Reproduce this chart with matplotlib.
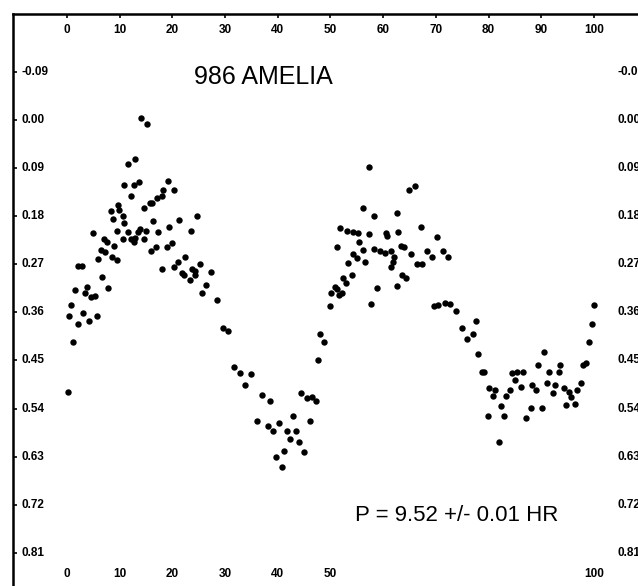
import matplotlib
matplotlib.use("Agg")
import matplotlib.pyplot as plt
import numpy as np
from matplotlib.transforms import blended_transform_factory

# phase (percent) and relative magnitude
phase = [
    0.1, 0.4, 0.8, 1.1, 1.5, 2.1, 2.8, 2.1, 3.1, 3.4, 3.8, 4.2, 4.6, 5.3, 5.6,
    4.9, 5.9, 6.4, 6.7, 7.1, 7.3, 7.6, 7.8, 8.4, 8.5, 8.8, 8.9, 9.4, 9.5, 9.7,
    9.9, 10.6, 10.6, 10.9, 10.9, 11.6, 11.6, 12.1, 12.1, 12.7, 12.7, 12.9, 13.0,
    13.5, 13.7, 13.9, 14.0, 15.1, 14.7, 14.7, 14.9, 15.7, 16.1, 15.9, 16.3,
    16.9, 17.1, 17.3, 18.0, 18.0, 18.3, 19.0, 19.2, 19.4, 20.0, 20.3, 20.4,
    21.1, 21.3, 21.8, 22.3, 22.4, 23.3, 23.6, 23.7, 24.2, 24.3, 24.7, 25.3,
    25.6, 26.4, 27.4, 28.5, 29.6, 30.6, 31.7, 32.8, 34.9, 33.8, 37.1, 38.6,
    36.0, 38.1, 39.1, 40.2, 41.8, 42.9, 43.5, 42.3, 44.0, 41.2, 39.6, 45.0,
    40.8, 46.2, 44.5, 45.6, 46.5, 47.2, 47.7, 48.1, 48.7, 49.9,
    50.2, 50.9, 51.2, 51.6, 52.1, 52.4, 52.9, 53.4, 54.0, 51.3, 51.9, 53.1,
    54.2, 54.3, 55.1, 55.3, 55.5, 56.2, 56.2, 56.6, 57.3, 57.4, 57.7, 58.3,
    58.3, 58.8, 59.4, 60.3, 60.5, 60.8, 61.5, 61.5, 61.8, 62.1, 62.6, 62.6,
    62.9, 63.3, 63.9, 63.6, 64.3, 65.0, 66.0, 65.3, 66.4, 67.3, 67.2, 68.3,
    69.2, 70.3, 71.3, 72.4, 69.6, 70.5, 71.7, 72.7, 73.8, 74.9, 76.0, 77.0,
    77.6, 78.1, 78.7, 79.2, 80.1, 80.8, 81.2, 79.9, 82.3, 82.9, 81.9, 83.3,
    84.0, 84.4, 85.4, 86.5, 85.0, 86.1, 87.2, 88.0, 88.2, 89.1, 89.4, 90.5,
    91.1, 91.5, 90.1, 92.3, 92.7, 93.3, 93.6, 94.3, 95.3, 95.7, 94.7, 96.5,
    96.8, 97.6, 98.0, 98.5, 99.0, 99.6, 100.0,
]
mag = [
    0.509, 0.366, 0.347, 0.415, 0.319, 0.274, 0.274, 0.381, 0.362, 0.323,
    0.313, 0.377, 0.331, 0.329, 0.366, 0.212, 0.260, 0.243, 0.294, 0.223,
    0.247, 0.228, 0.314, 0.170, 0.256, 0.185, 0.236, 0.262, 0.208, 0.159,
    0.169, 0.179, 0.223, 0.193, 0.122, 0.083, 0.209, 0.142, 0.223, 0.122,
    0.228, 0.221, 0.073, 0.209, 0.117, 0.204, -0.004, 0.007, 0.164, 0.223,
    0.208, 0.155, 0.155, 0.246, 0.189, 0.237, 0.146, 0.209, 0.142, 0.279,
    0.132, 0.237, 0.114, 0.200, 0.231, 0.132, 0.276, 0.265, 0.188, 0.287,
    0.291, 0.256, 0.299, 0.208, 0.279, 0.290, 0.282, 0.180, 0.270, 0.323,
    0.309, 0.284, 0.337, 0.390, 0.395, 0.462, 0.473, 0.476, 0.496, 0.514,
    0.525, 0.564, 0.572, 0.582, 0.567, 0.582, 0.553, 0.582, 0.596, 0.602,
    0.620, 0.630, 0.622, 0.649, 0.563, 0.510, 0.521, 0.519, 0.525, 0.449,
    0.401, 0.416, 0.348,
    0.324, 0.312, 0.316, 0.327, 0.324, 0.295, 0.305, 0.267, 0.291, 0.238,
    0.203, 0.208, 0.250, 0.209, 0.258, 0.212, 0.228, 0.164, 0.243, 0.266,
    0.088, 0.213, 0.344, 0.179, 0.241, 0.314, 0.246, 0.249, 0.211, 0.218,
    0.246, 0.276, 0.266, 0.257, 0.174, 0.311, 0.209, 0.236, 0.237, 0.290,
    0.295, 0.132, 0.123, 0.251, 0.270, 0.270, 0.200, 0.246, 0.256, 0.219,
    0.246, 0.256, 0.348, 0.347, 0.343, 0.344, 0.357, 0.390, 0.410, 0.400,
    0.376, 0.438, 0.472, 0.472, 0.502, 0.516, 0.505, 0.554, 0.536, 0.553,
    0.602, 0.516, 0.505, 0.473, 0.472, 0.471, 0.486, 0.500, 0.558, 0.539,
    0.496, 0.505, 0.458, 0.434, 0.493, 0.472, 0.539, 0.510, 0.496, 0.472,
    0.458, 0.502, 0.509, 0.519, 0.534, 0.531, 0.505, 0.492, 0.458, 0.454,
    0.415, 0.381, 0.347,
]

x_ticks = [0, 10, 20, 30, 40, 50, 60, 70, 80, 90, 100]
x_ticks_bottom = [0, 10, 20, 30, 40, 50, 100]
y_ticks = [-0.09, 0.00, 0.09, 0.18, 0.27, 0.36, 0.45, 0.54, 0.63, 0.72, 0.81]

title = "986 AMELIA"
period_note = "P = 9.52 +/- 0.01 HR"

W, H = 638, 586
fig = plt.figure(figsize=(W / 100, H / 100), dpi=100)
# the scanned frame runs off the right and bottom edges of the picture
ax = fig.add_axes([13 / W, -14 / H, 642 / W, 586 / H])

ax.plot(phase, mag, "o", color="black", ms=4.6, mew=0)

ax.set_xlim(-10.25, 111.6)
ax.set_ylim(0.898, -0.198)

for s in ax.spines.values():
    s.set_linewidth(1.8)

ax.set_xticks(x_ticks)
ax.set_yticks(y_ticks)
ax.tick_params(axis="x", direction="in", length=3, width=1.2,
               top=True, bottom=False, labeltop=False, labelbottom=False)
ax.tick_params(axis="y", direction="in", length=3, width=1.2,
               left=True, right=False, labelleft=False)

tick_font = dict(family=["Liberation Sans", "DejaVu Sans"], fontweight="bold",
                 fontsize=8.5)
tx = blended_transform_factory(ax.transData, ax.transAxes)
ty = blended_transform_factory(ax.transAxes, ax.transData)
for v in x_ticks:
    ax.text(v, 0.973, f"{v}", transform=tx, ha="center", va="center", **tick_font)
for v in x_ticks_bottom:
    ax.text(v, 0.044, f"{v}", transform=tx, ha="center", va="center", **tick_font)
# right-hand labels are clipped by the page edge, as in the scan
for v in y_ticks:
    ax.text(0.014, v, f"{v:.2f}", transform=ty, ha="left", va="center", **tick_font)
    ax.text(0.941, v, f"{v:.2f}", transform=ty, ha="left", va="center", **tick_font)

big_font = ["Liberation Sans Narrow", "Liberation Sans"]
ax.text(0.39, 0.893, title, transform=ax.transAxes, ha="center", va="center",
        family=big_font, fontsize=18)
ax.text(0.691, 0.145, period_note, transform=ax.transAxes, ha="center", va="center",
        family=big_font, fontsize=16)

fig.savefig("out.png", dpi=100)
